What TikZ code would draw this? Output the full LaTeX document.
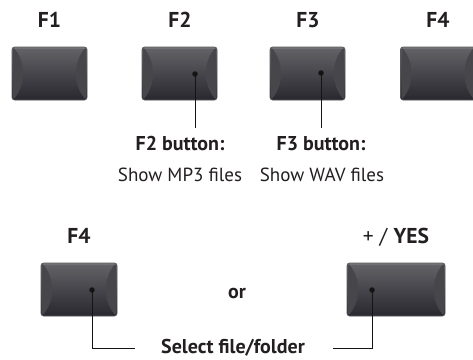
\documentclass[tikz,border=0pt]{standalone}
\usepackage{fontspec}
\setmainfont{PT Sans}
\definecolor{btntop}{HTML}{636368}
\definecolor{btnbot}{HTML}{29282F}
\definecolor{btnside}{HTML}{46464B}
\definecolor{btnedge}{HTML}{55555A}
\definecolor{btnhi}{HTML}{7A7A7F}
\definecolor{txt}{HTML}{231F20}
\begin{document}
\begin{tikzpicture}[x=1pt,y=-1pt,
  btn/.style={draw=btnedge, line width=0.6pt, rounded corners=2.5pt,
    top color=btntop, bottom color=btnbot, minimum height=53pt, inner sep=0pt,
    path picture={
      \fill[btnside] ([xshift=1pt]path picture bounding box.north west)
        .. controls +(13pt,-16pt) and +(13pt,16pt) .. ([xshift=1pt]path picture bounding box.south west) -- cycle;
      \fill[btnside] ([xshift=-1pt]path picture bounding box.north east)
        .. controls +(-13pt,-16pt) and +(-13pt,16pt) .. ([xshift=-1pt]path picture bounding box.south east) -- cycle;
      \fill[btnhi] (path picture bounding box.north west) rectangle ([yshift=-1.5pt]path picture bounding box.north east);
    }},
  dot/.style={circle, fill=black!92, inner sep=0pt, minimum size=5.5pt},
  conn/.style={draw=black!92, line width=0.9pt},
  key/.style={font=\fontsize{21.5}{25}\selectfont\bfseries, text=txt, anchor=base, inner sep=0pt},
  bold/.style={font=\fontsize{20}{24}\selectfont\bfseries, text=txt, anchor=base, inner sep=0pt},
  plain/.style={font=\fontsize{19}{23}\selectfont, text=txt, anchor=base, inner sep=0pt},
  keyplain/.style={font=\fontsize{21.5}{25}\selectfont, text=txt, anchor=base, inner sep=0pt}
]
\clip (0,0) rectangle (473,359);
\fill[white] (0,0) rectangle (473,359);

% top row labels
\node[key] (lf1) at (49.5,27) {F1};
\node[key] (lf2) at (180,27) {F2};
\node[key] (lf3) at (308,27) {F3};
\node[key] (lf4) at (438,27) {F4};

% top row buttons
\node[btn, minimum width=75pt] (bf1) at (49.5,73.5) {};
\node[btn, minimum width=75pt] (bf2) at (179.5,73.5) {};
\node[btn, minimum width=75pt] (bf3) at (307.5,73.5) {};
\node[btn, minimum width=75pt] (bf4) at (438,73.5) {};

% dots and connectors
\node[dot] (df2) at (195,74) {};
\node[dot] (df3) at (321,73) {};
\coordinate (ef2) at (195,128);
\coordinate (ef3) at (321,128);
\draw[conn] (df2.center) -- (ef2);
\draw[conn] (df3.center) -- (ef3);

% descriptions
\node[bold] (tf2) at (180,150) {F2 button:};
\node[plain] (sf2) at (180,181) {Show MP3 files};
\node[bold] (tf3) at (321,150) {F3 button:};
\node[plain] (sf3) at (322,181) {Show WAV files};

% bottom row
\node[key] (lf4b) at (79,243) {F4};
\node[keyplain] (lyes) at (396,243) {+ / \textbf{YES}};
\node[btn, minimum width=76pt] (bf4b) at (79,289.5) {};
\node[btn, minimum width=98pt] (byes) at (396,289.5) {};
\node[bold] (or) at (237,298) {or};

\node[dot] (df4b) at (92,290) {};
\node[dot] (dyes) at (372,290) {};

\node[bold] (sel) at (233,353) {Select file/folder};
\coordinate (selL) at (135,348);
\coordinate (selR) at (333,348);
\draw[conn] (df4b.center) |- (selL);
\draw[conn] (dyes.center) |- (selR);
\end{tikzpicture}
\end{document}
